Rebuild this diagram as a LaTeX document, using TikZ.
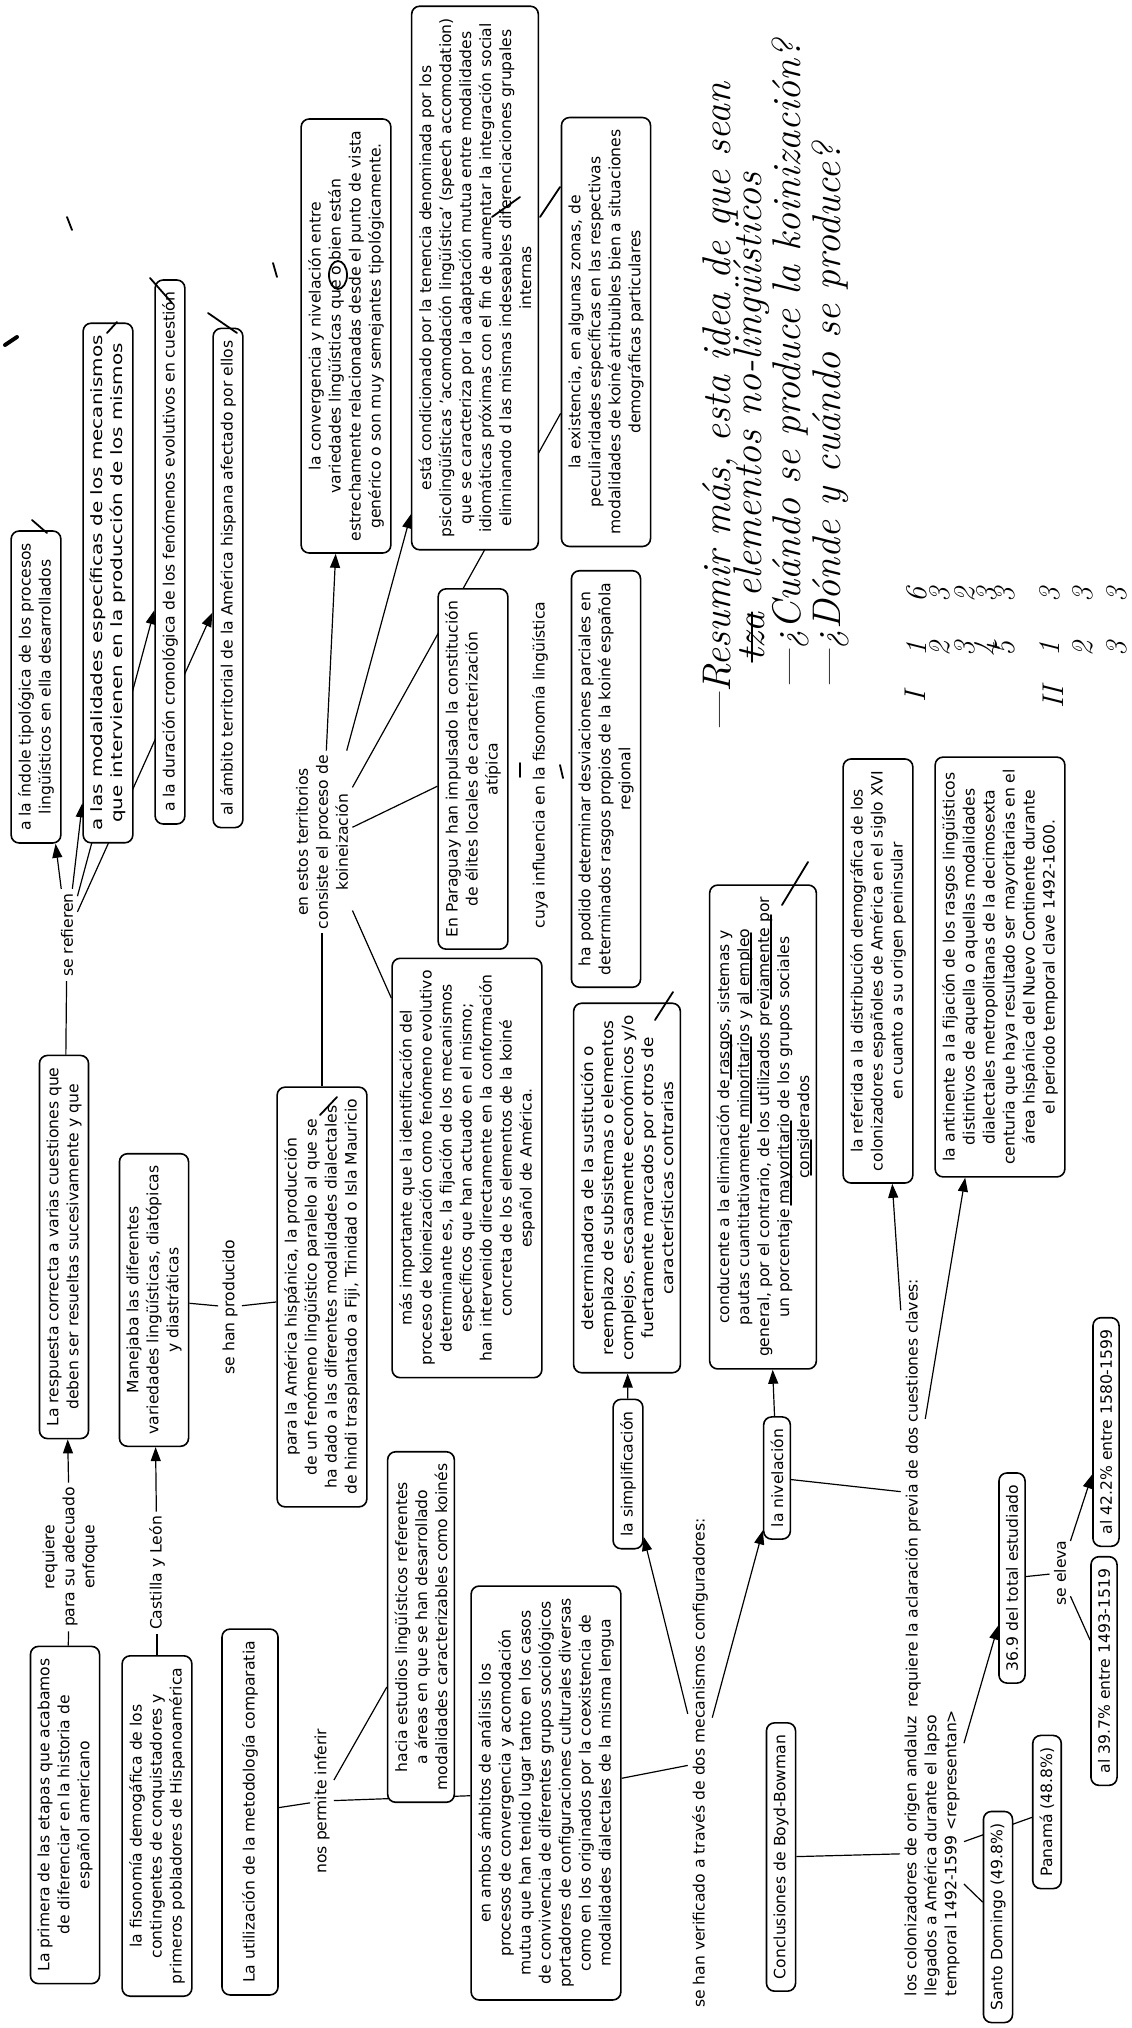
\documentclass[tikz,border=0pt]{standalone}
\usepackage{fontspec}
\setmainfont{DejaVu Sans}
\newfontfamily\hand{Latin Modern Roman}
\usetikzlibrary{arrows.meta}
\pgfdeclarelayer{bg}
\pgfsetlayers{bg,main}
\begin{document}
\begin{tikzpicture}[x=0.5pt,y=-0.5pt,
  box/.style={draw, line width=0.8pt, rounded corners=4pt, fill=white, rotate=90, align=center,
    inner xsep=6pt, inner ysep=3.5pt, font=\fontsize{7.8}{10}\selectfont},
  lbl/.style={rotate=90, align=center, inner sep=2pt, font=\fontsize{7.8}{10}\selectfont},
  con/.style={line width=0.6pt},
  arr/.style={line width=0.6pt, -{Triangle[length=7pt,width=5pt]}},
  hmark/.style={line width=0.9pt, line cap=round},
  hw/.style={rotate=90, anchor=west, inner sep=0pt, font=\hand\fontsize{20}{24}\selectfont\itshape},
  hwd/.style={rotate=90, inner sep=0pt, font=\hand\fontsize{15}{15}\selectfont\itshape}
]
\useasboundingbox (0,0) rectangle (1131,2028);

% ---------- top left cluster
\node[box] (C1) at (36,687) {a la índole tipológica de los procesos\\lingüísticos en ella desarrollados};
\node[box] (C2) at (108,583) {\addfontfeatures{FakeStretch=1.28}a las modalidades específicas de los mecanismos\\\addfontfeatures{FakeStretch=1.28}que intervienen en la producción de los mismos};
\node[box] (C3) at (170,552) {a la duración cronológica de los fenómenos evolutivos en cuestión};
\node[box] (C4) at (228,578) {al ámbito territorial de la América hispana afectado por ellos};
\node[lbl] (lblRef) at (67,935) {se refieren};
\node[box] (B) at (64,1247) {La respuesta correcta a varias cuestiones que\\deben ser resueltas sucesivamente y que};
\node[lbl] (lblReq) at (70,1557) {requiere\\para su adecuado\\enfoque};
\node[box] (A) at (65,1815) {La primera de las etapas que acabamos\\de diferenciar en la historia de\\español americano};
\node[box] (D) at (157,1826) {la fisonomía demogáfica de los\\contingentes de conquistadores y\\primeros pobladores de Hispanoamérica};
\node[lbl] (lblCL) at (157,1573) {Castilla y León};
\node[box] (E) at (154,1300) {Manejaba las diferentes\\variedades lingüísticas, diatópicas\\y diastráticas};
\node[lbl] (lblProd) at (230,1307) {se han producido};
\node[box] (F) at (322,1297) {para la América hispánica, la producción\\de un fenómeno lingüístico paralelo al que se\\ha dado a las diferentes modalidades dialectales\\de hindi trasplantado a Fiji, Trinidad o Isla Mauricio};
\node[lbl] (lblKoine) at (322,842) {en estos territorios\\consiste el proceso de\\koineización};
\node[box] (G) at (346,336) {la convergencia y nivelación entre\\variedades lingüísticas que o bien están\\estrechamente relacionadas desde el punto de vista\\genérico o son muy semejantes tipológicamente.};
\node[box] (H) at (475,278) {está condicionado por la tenencia denominada por los\\psicolingüísticas 'acomodación lingüística' (speech accomodation)\\que se caracteriza por la adaptación mutua entre modalidades\\idiomáticas próximas con el fin de aumentar la integración social\\eliminando d las mismas indeseables diferenciaciones grupales\\internas};
\node[box] (K) at (606,332) {la existencia, en algunas zonas, de\\peculiaridades específicas en las respectivas\\modalidades de koiné atribuibles bien a situaciones\\demográficas particulares};
\node[box] (Q) at (473,769) {En Paraguay han impulsado la constitución\\de élites locales de caracterización\\atípica};
\node[lbl] (lblCuya) at (540,765) {cuya influencia en la fisonomía lingüística};
\node[box] (J) at (606,779) {ha podido determinar desviaciones parciales en\\determinados rasgos propios de la koiné española\\regional};
\node[box] (I) at (467,1168) {más importante que la identificación del\\proceso de koineización como fenómeno evolutivo\\determinante es, la fijación de los mecanismos\\específicos que han actuado en el mismo;\\han intervenido directamente en la conformación\\concreta de los elementos de la koiné\\español de América.};
\node[box] (P) at (627,1188) {\addfontfeatures{FakeStretch=1.08}determinadora de la sustitución o\\\addfontfeatures{FakeStretch=1.08}reemplazo de subsistemas o elementos\\\addfontfeatures{FakeStretch=1.08}complejos, escasamente económicos y/o\\\addfontfeatures{FakeStretch=1.08}fuertamente marcados por otros de\\\addfontfeatures{FakeStretch=1.08}características contrarias};
\node[box] (S) at (628,1474) {la simplificación};
\node[box] (M) at (421,1627) {hacia estudios lingüísticos referentes\\a áreas en que se han desarrollado\\modalidades caracterizables como koinés};
\node[box] (N) at (546,1793) {en ambos ámbitos de análisis los\\procesos de convergencia y acomodación\\mutua que han tenido lugar tanto en los casos\\de convivencia de diferentes grupos sociológicos\\portadores de configuraciones culturales diversas\\como en los originados por la coexistencia de\\modalidades dialectales de la misma lengua};
\node[box, minimum height=28pt] (U) at (250,1812) {La utilización de la metodología comparatia};
\node[lbl] (lblInf) at (322,1801) {nos permite inferir};
\node[lbl] (V) at (700,1763) {se han verificado a través de dos mecanismos configuradores:};

% ---------- right part
\node[box] (N2) at (777,1478) {la nivelación};
\node[box] (R) at (763,1127) {conducente a la eliminación de rasgos, sistemas y\\pautas cuantitativamente minoritarios y al empleo\\general, por el contrario, de los utilizados previamente por\\un porcentaje mayoritario de los grupos sociales\\considerados};
\node[lbl] (RQ) at (913,1493) {requiere la aclaración previa de dos cuestiones claves:};
\node[box] (Ref) at (878,971) {la referida a la distribución demográfica de los\\colonizadores españoles de América en el siglo XVI\\en cuanto a su origen peninsular};
\node[box] (Ant) at (1000,967) {la antinente a la fijación de los rasgos lingüísticos\\distintivos de aquella o aquellas modalidades\\dialectales metropolitanas de la decimosexta\\centuria que haya resultado ser mayoritarias en el\\área hispánica del Nuevo Continente durante\\el periodo temporal clave 1492-1600.};
\node[box] (CB) at (781,1857) {Conclusiones de Boyd-Bowman};
\node[lbl, align=left] (LC) at (932,1853) {los colonizadores de origen andaluz\\llegados a América durante el lapso\\temporal 1492-1599 <representan>};
\node[box] (T36) at (1012,1578) {36.9 del total estudiado};
\node[lbl] (lblEleva) at (1060,1573) {se eleva};
\node[box] (A42) at (1106,1432) {al 42.2\% entre 1580-1599};
\node[box] (A39) at (1104,1671) {al 39.7\% entre 1493-1519};
\node[box] (SD) at (998,1917) {Santo Domingo (49.8\%)};
\node[box] (PA) at (1047,1812) {Panamá (48.8\%)};

% ---------- handwriting
\node[hw] (hw1) at (720,733) {—Resumir más, esta idea de que sean};
\node[hw] (hw2a) at (752,662) {tza};
\node[hw] (hw2) at (hw2a.east) {\ elementos no-lingüísticos};
\draw[hmark] (hw2a.west) -- (hw2a.east);
\node[hw] (hw3) at (790,690) {—¿Cuándo se produce la koinización?};
\node[hw] (hw4) at (830,690) {—¿Dónde y cuándo se produce?};
\node[hwd] (t1) at (915,697) {I};
\node[hwd] (t2) at (1053,697) {II};
\foreach \xx/\a/\b [count=\k] in {917/1/6,940/2/3,965/3/2,987/4/3,1005/5/3,1050/1/3,1083/2/3,1117/3/3}{
  \node[hwd] (ta\k) at (\xx,649) {\a};
  \node[hwd] (tb\k) at (\xx,595) {\b};
}
% handwritten ticks and underlines
\draw[hmark] (32,520) -- (47,533);
\draw[hmark] (107,333) -- (117,322);
\draw[hmark] (150,278) -- (172,303);
\draw[hmark] (208,313) -- (237,333);
\draw[hmark] (273,263) -- (277,277);
\draw[hmark] (67,217) -- (72,230);
\draw[line width=2pt, line cap=round] (5,345) -- (17,337);
\draw[hmark] (338,275) ellipse [x radius=9, y radius=14];
\draw[hmark] (492,217) -- (520,197);
\draw[hmark] (540,217) -- (560,187);
\draw[hmark] (320,1115) -- (337,1097);
\draw[hmark] (520,763) -- (520,777);
\draw[hmark] (560,765) -- (563,778);
\draw[hmark] (655,1020) -- (673,992);
\draw[hmark] (782,905) -- (808,862);
\draw[hmark] (731,1079) -- (731,1035);
\draw[hmark] (751,1123) -- (751,1037);
\draw[hmark] (751,1003) -- (751,933);
\draw[hmark] (771,999) -- (771,915);
\draw[hmark] (791,1205) -- (791,1121);
\draw[hmark] (811,1175) -- (811,1140);

% ---------- connectors
\begin{pgfonlayer}{bg}
\draw[con] (B) -- (lblRef);
\draw[arr] (lblRef) -- (C1);
\draw[arr] (lblRef) -- (C2);
\draw[arr] (lblRef) -- (C3);
\draw[arr] (lblRef) -- (C4);
\draw[con] (A) -- (lblReq);
\draw[arr] (lblReq) -- (B);
\draw[con] (D) -- (lblCL);
\draw[arr] (lblCL) -- (E);
\draw[con] (E) -- (lblProd);
\draw[con] (lblProd) -- (F);
\draw[con] (F) -- (lblKoine);
\draw[arr] (lblKoine) -- (G);
\draw[arr] (lblKoine) -- (H);
\draw[con] (lblKoine) -- (K);
\draw[con] (lblKoine) -- (Q);
\draw[con] (lblKoine) -- (I);
\draw[arr] (S) -- (P);
\draw[con] (U) -- (lblInf);
\draw[con] (lblInf) -- (M);
\draw[con] (lblInf) -- (N);
\draw[con] (N) -- (V);
\draw[arr] (V) -- (S);
\draw[arr] (V) -- (N2);
\draw[arr] (N2) -- (R);
\draw[con] (N2) -- (RQ);
\draw[arr] (RQ) -- (Ref);
\draw[arr] (RQ) -- (Ant);
\draw[con] (CB) -- (LC);
\draw[arr] (LC) -- (T36);
\draw[con] (LC) -- (SD);
\draw[con] (LC) -- (PA);
\draw[con] (T36) -- (lblEleva);
\draw[arr] (lblEleva) -- (A42);
\draw[con] (lblEleva) -- (A39);
\end{pgfonlayer}
\end{tikzpicture}
\end{document}
